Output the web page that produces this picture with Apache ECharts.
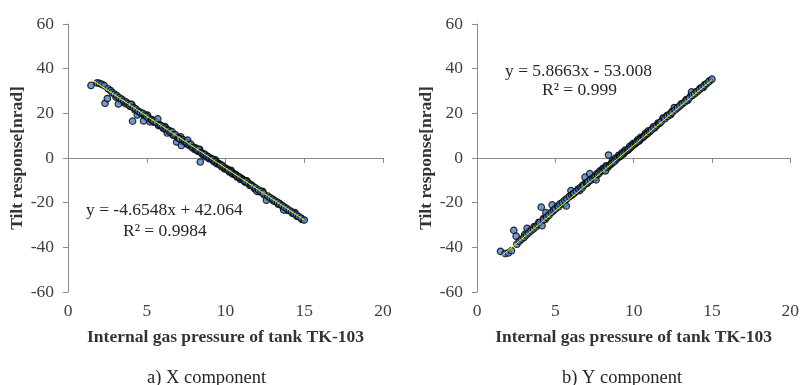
<!DOCTYPE html>
<html><head><meta charset="utf-8">
<script src="https://cdn.jsdelivr.net/npm/echarts@6/dist/echarts.min.js"></script>
<style>html,body{margin:0;padding:0;background:#fff}#c{width:802px;height:385px}</style>
</head><body><div id="c"></div>
<script>
// X component: [pressure, tilt]
const xComponent = [[1.46,32.5],[1.85,33.6],[2.0,33.4],[2.15,33.0],[2.3,32.4],[2.35,24.5],[2.5,26.6],[2.55,31.0],[2.7,30.2],[2.8,29.3],[2.95,28.6],[3.1,27.9],[3.2,24.2],[3.25,27.0],[3.4,26.4],[3.55,25.5],[3.7,25.0],[3.8,24.3],[3.9,23.6],[4.0,24.0],[4.1,16.5],[4.15,22.6],[4.3,22.0],[4.4,19.2],[4.45,21.0],[4.6,20.4],[4.75,20.0],[4.8,16.6],[4.9,19.2],[5.0,18.6],[5.1,17.8],[5.2,16.2],[5.3,17.2],[5.35,16.9],[5.45,16.6],[5.6,16.0],[5.7,17.5],[5.8,14.8],[5.9,14.6],[6.0,14.0],[6.1,13.2],[6.2,13.5],[6.25,12.6],[6.3,11.2],[6.4,12.4],[6.5,11.5],[6.6,11.8],[6.7,10.2],[6.8,10.5],[6.9,7.2],[7.0,9.0],[7.05,8.7],[7.1,8.6],[7.2,5.6],[7.3,8.2],[7.4,7.4],[7.5,7.0],[7.55,7.1],[7.6,8.0],[7.7,5.9],[7.8,6.2],[7.9,4.6],[8.0,4.8],[8.1,4.0],[8.15,4.3],[8.2,3.5],[8.3,3.8],[8.4,-1.8],[8.45,2.4],[8.5,2.2],[8.6,1.8],[8.7,1.6],[8.8,0.9],[8.9,0.6],[9.0,0.0],[9.1,-0.4],[9.15,-0.5],[9.2,-0.6],[9.3,-1.4],[9.4,-1.6],[9.5,-2.3],[9.6,-2.6],[9.65,-2.9],[9.7,-3.2],[9.8,-3.4],[9.9,-4.2],[10.0,-4.6],[10.1,-5.0],[10.15,-5.3],[10.2,-5.6],[10.3,-6.0],[10.4,-6.4],[10.5,-7.0],[10.6,-7.3],[10.65,-7.6],[10.7,-7.8],[10.8,-8.3],[10.9,-8.6],[11.0,-9.2],[11.1,-9.6],[11.15,-10.0],[11.2,-10.2],[11.3,-10.5],[11.45,-11.3],[11.6,-11.9],[11.65,-12.2],[11.75,-12.7],[11.9,-13.4],[12.0,-14.9],[12.1,-14.3],[12.25,-15.0],[12.4,-15.7],[12.6,-18.9],[12.7,-17.1],[12.85,-17.8],[13.0,-18.5],[13.15,-19.2],[13.3,-19.9],[13.45,-20.6],[13.6,-21.3],[13.7,-23.3],[13.75,-22.0],[13.9,-22.7],[14.05,-23.4],[14.2,-24.1],[14.35,-24.8],[14.5,-25.5],[14.65,-26.2],[14.8,-26.9],[15.0,-27.8]];
const xComponentDense = [[3.05,27.2],[3.35,26.0],[3.65,24.3],[3.95,23.1],[4.05,23.9],[4.25,21.5],[4.55,20.0],[4.85,18.9],[5.05,19.2],[5.15,17.4],[5.45,16.0],[5.75,14.5],[6.05,13.3],[6.15,14.1],[6.35,11.9],[6.65,10.4],[6.95,9.2],[7.15,9.5],[7.25,7.5],[7.45,6.6],[7.65,5.8],[7.85,5.0],[8.05,3.8],[8.25,3.0],[8.35,3.9],[8.55,1.6],[8.75,0.6],[8.95,-0.3],[9.25,-1.6],[9.35,-0.8],[9.45,-2.6],[9.75,-3.9],[9.95,-4.9],[10.25,-6.3],[10.35,-5.5],[10.45,-7.2],[10.75,-8.6],[10.95,-9.6],[11.25,-10.9],[11.35,-10.2],[11.55,-12.3],[11.85,-13.8],[12.15,-15.1],[12.35,-14.9],[12.45,-16.5],[12.75,-17.9],[13.05,-19.3],[13.35,-20.7],[13.4,-20.3],[13.65,-22.1],[13.95,-23.5],[14.25,-24.8],[14.4,-24.4],[14.55,-26.2],[14.85,-27.5]];
// Y component
const yComponent = [[1.5,-41.8],[1.8,-42.8],[2.0,-42.5],[2.2,-41.5],[2.35,-32.4],[2.5,-35.0],[2.55,-38.6],[2.7,-37.3],[2.85,-36.4],[3.0,-35.6],[3.15,-34.5],[3.2,-31.5],[3.3,-33.5],[3.45,-32.6],[3.6,-31.8],[3.75,-30.9],[3.9,-29.8],[4.0,-29.0],[4.1,-22.0],[4.15,-30.3],[4.25,-27.6],[4.4,-24.5],[4.45,-26.5],[4.6,-25.6],[4.75,-24.4],[4.8,-21.0],[4.9,-23.4],[5.0,-22.8],[5.15,-21.5],[5.2,-21.9],[5.3,-20.6],[5.45,-19.9],[5.6,-19.0],[5.7,-21.5],[5.75,-18.2],[5.9,-17.2],[6.0,-14.6],[6.05,-16.6],[6.15,-16.0],[6.2,-15.8],[6.35,-14.9],[6.5,-14.0],[6.6,-13.2],[6.7,-13.5],[6.8,-12.4],[6.9,-8.6],[7.0,-11.4],[7.05,-11.2],[7.1,-10.6],[7.2,-7.0],[7.25,-10.0],[7.4,-9.2],[7.5,-8.4],[7.55,-8.7],[7.6,-9.8],[7.7,-7.4],[7.8,-6.8],[7.9,-6.0],[8.0,-5.6],[8.1,-4.9],[8.15,-5.1],[8.2,-5.8],[8.3,-4.0],[8.4,1.3],[8.45,-3.3],[8.55,-2.8],[8.6,-2.3],[8.7,-1.9],[8.8,-1.4],[8.9,-0.5],[9.0,0.1],[9.1,0.6],[9.15,0.8],[9.2,1.1],[9.3,1.8],[9.4,2.4],[9.5,3.0],[9.6,3.4],[9.65,3.7],[9.7,4.1],[9.8,4.6],[9.9,5.3],[10.0,5.9],[10.1,6.4],[10.15,6.8],[10.2,7.1],[10.3,7.6],[10.4,8.2],[10.5,8.8],[10.6,9.3],[10.65,9.6],[10.7,9.9],[10.8,10.5],[10.9,11.0],[11.0,11.7],[11.05,12.0],[11.15,12.6],[11.3,13.5],[11.45,14.4],[11.6,15.3],[11.65,15.6],[11.75,16.1],[11.9,18.0],[12.0,17.6],[12.15,18.6],[12.3,19.5],[12.45,20.3],[12.6,22.6],[12.65,21.5],[12.8,22.4],[12.95,23.3],[13.1,24.2],[13.25,25.0],[13.4,25.9],[13.55,26.8],[13.7,29.6],[13.75,28.0],[13.9,28.8],[14.05,29.7],[14.2,30.6],[14.35,31.5],[14.5,32.4],[14.65,33.2],[14.8,34.1],[15.0,35.3]];
const yComponentDense = [[3.05,-34.2],[3.35,-32.4],[3.65,-30.7],[3.95,-28.8],[4.25,-27.1],[4.35,-27.6],[4.55,-25.3],[4.85,-23.6],[5.05,-22.2],[5.35,-20.5],[5.55,-20.6],[5.65,-18.8],[5.95,-17.0],[6.25,-15.2],[6.45,-14.0],[6.55,-14.6],[6.75,-12.2],[6.95,-11.0],[7.15,-9.8],[7.35,-8.8],[7.45,-9.4],[7.65,-7.0],[7.85,-5.8],[8.05,-4.6],[8.25,-3.5],[8.35,-4.1],[8.65,-1.2],[8.85,0.0],[9.05,1.2],[9.25,2.3],[9.35,1.8],[9.45,3.5],[9.75,5.2],[9.95,6.4],[10.25,8.1],[10.35,7.6],[10.45,9.3],[10.75,11.0],[10.95,12.2],[11.25,13.9],[11.35,13.5],[11.55,15.6],[11.85,17.4],[12.15,19.1],[12.35,19.3],[12.45,20.8],[12.75,22.6],[13.05,24.3],[13.35,26.1],[13.45,25.8],[13.65,27.8],[13.95,29.5],[14.25,31.2],[14.45,31.6],[14.55,32.9],[14.85,34.6]];
// Linear trend fits: [slope, intercept], and x range
const fitX = [-4.6548, 42.064];
const fitY = [5.8663, -53.008];
const fitRange = [1.5, 15];
const xTicks = [0, 20, 5];
const yTicks = [-60, 60, 20];
const eqTexts = ['y = -4.6548x + 42.064', 'R\u00b2 = 0.9984', 'y = 5.8663x - 53.008', 'R\u00b2 = 0.999'];
const captions = ['a) X component', 'b) Y component'];
const xName = 'Internal gas pressure of tank TK-103';
const yName = 'Tilt response[nrad]';

const FONT = '"Liberation Serif", "Times New Roman", serif';
const fitLine = f => fitRange.map(x => [x, f[0] * x + f[1]]);

const grids = [
  {left: 68, right: 419, top: 24, bottom: 93},
  {left: 477, right: 10, top: 24, bottom: 93}
];
const axisCommon = {
  axisLine: {lineStyle: {color: '#8c8c8c', width: 1}},
  axisTick: {lineStyle: {color: '#8c8c8c'}, length: 5},
  splitLine: {show: false},
  axisLabel: {color: '#404040', fontFamily: FONT, fontSize: 17.5},
  nameTextStyle: {color: '#333', fontFamily: FONT, fontSize: 17.5, fontWeight: 'bold'}
};
const xAxes = [0, 1].map(i => Object.assign({}, axisCommon, {
  gridIndex: i, type: 'value', min: xTicks[0], max: xTicks[1], interval: xTicks[2],
  name: xName, nameLocation: 'middle', nameGap: 36,
  axisLabel: Object.assign({}, axisCommon.axisLabel, {margin: 10})
}));
const yAxes = [0, 1].map(i => Object.assign({}, axisCommon, {
  gridIndex: i, type: 'value', min: yTicks[0], max: yTicks[1], interval: yTicks[2],
  name: yName, nameLocation: 'middle', nameGap: 37,
  axisLine: {show: true, lineStyle: {color: '#8c8c8c', width: 1}},
  axisLabel: Object.assign({}, axisCommon.axisLabel, {margin: 14})
}));
const scatterStyle = {color: '#4f81bd', borderColor: '#000', borderWidth: 1.2};
const sc = (i, d) => ({type: 'scatter', xAxisIndex: i, yAxisIndex: i, data: d, symbolSize: 6.5, itemStyle: scatterStyle});
const series = [
  sc(0, xComponentDense), sc(0, xComponent),
  sc(1, yComponentDense), sc(1, yComponent),
  {type: 'line', xAxisIndex: 0, yAxisIndex: 0, data: fitLine(fitX), showSymbol: false, symbol: 'none', lineStyle: {color: '#f2f200', width: 1}, z: 5},
  {type: 'line', xAxisIndex: 1, yAxisIndex: 1, data: fitLine(fitY), showSymbol: false, symbol: 'none', lineStyle: {color: '#f2f200', width: 1}, z: 5}
];
const txt = (x, y, s, size) => ({type: 'text', left: x, top: y, style: {text: s, fill: '#262626', font: (size || 17.5) + 'px ' + FONT}});
const graphic = [
  txt(86, 201, eqTexts[0]), txt(123, 222, eqTexts[1]),
  txt(505, 62, eqTexts[2]), txt(542, 81, eqTexts[3]),
  txt(147, 369, captions[0], 18.5), txt(562, 369, captions[1], 18.5)
];
const chart = echarts.init(document.getElementById('c'));
chart.setOption({
  animation: false,
  grid: grids, xAxis: xAxes, yAxis: yAxes, series: series, graphic: graphic
});
</script></body></html>
